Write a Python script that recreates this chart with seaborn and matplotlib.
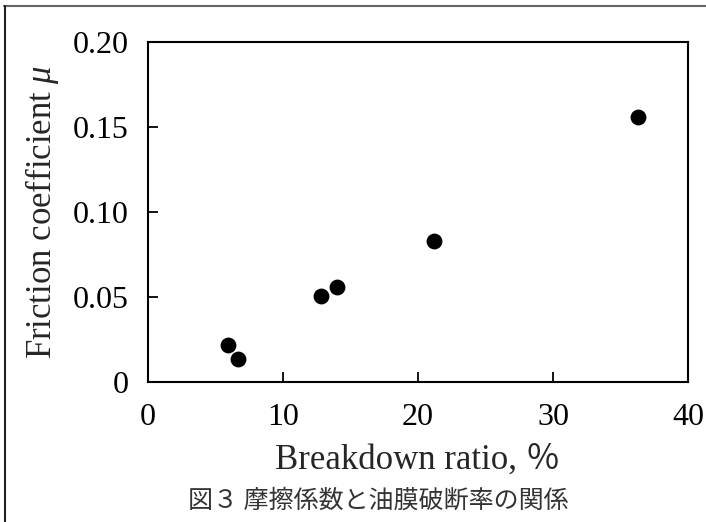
import matplotlib
matplotlib.use("Agg")
import pandas as pd
import seaborn as sns
import matplotlib.pyplot as plt
from matplotlib.lines import Line2D

# data
breakdown = [5.9, 6.7, 12.8, 14.0, 21.2, 36.3]
friction = [0.0216, 0.0134, 0.0505, 0.0558, 0.0828, 0.156]
x_ticks = [0, 10, 20, 30, 40]
y_ticks = [0, 0.05, 0.10, 0.15, 0.20]
y_ticklabels = ["0", "0.05", "0.10", "0.15", "0.20"]

sns.set_style("ticks")
plt.rcParams['font.family'] = ['Liberation Serif', 'Noto Sans CJK JP']
plt.rcParams['mathtext.fontset'] = 'custom'
plt.rcParams['mathtext.it'] = 'Liberation Serif:italic'
plt.rcParams['mathtext.rm'] = 'Liberation Serif'

df = pd.DataFrame({'breakdown': breakdown, 'friction': friction})

fig = plt.figure(figsize=(7.06, 5.22), dpi=100)
ax = fig.add_axes([0.2096, 0.2688, 0.765, 0.6507])
sns.scatterplot(data=df, x='breakdown', y='friction', ax=ax,
                color='black', s=130, edgecolor='black', linewidth=0)

ax.set_xlim(0, 40)
ax.set_ylim(0, 0.20)
ax.set_xticks(x_ticks)
ax.set_xticklabels([str(t) for t in x_ticks])
ax.set_yticks(y_ticks)
ax.set_yticklabels(y_ticklabels)
ax.tick_params(direction='in', length=7.5, width=1.3, labelsize=23,
               pad=14, colors='black')
ax.tick_params(axis='x', pad=15)
for sp in ax.spines.values():
    sp.set_linewidth(1.5)
    sp.set_color('black')

ax.set_xlabel('Breakdown ratio, ％', fontsize=25, labelpad=9)
ax.set_ylabel(r'Friction coefficient $\mu$', fontsize=25, labelpad=8)

# caption
fig.text(0.536, 0.040, '図３ 摩擦係数と油膜破断率の関係', fontsize=18,
         family=['Noto Sans CJK JP'], color='#333333', ha='center', va='center')

# frame lines at top and left
fig.add_artist(Line2D([0.006, 1.0], [0.988, 0.988], color='#666666', lw=1.5,
                      transform=fig.transFigure))
fig.add_artist(Line2D([0.007, 0.007], [0.0, 0.989], color='#222222', lw=1.5,
                      transform=fig.transFigure))

fig.savefig('out.png', dpi=100)
